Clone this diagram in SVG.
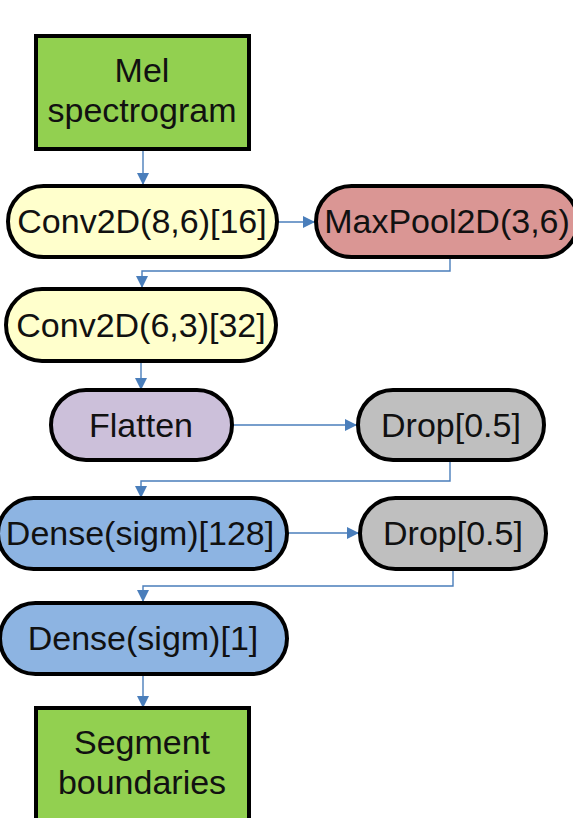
<svg xmlns="http://www.w3.org/2000/svg" width="573" height="818" viewBox="0 0 573 818">
<style>
.box{stroke:#000;stroke-width:4}
.t{font-family:"Liberation Sans",Arial,sans-serif;font-size:34px;fill:#111;text-anchor:middle}
.c{fill:none;stroke:#4a7ebb;stroke-width:1.4}
.green{fill:#92d050}.yellow{fill:#ffffcc}.red{fill:#da9694}.purple{fill:#ccc0da}.gray{fill:#bfbfbf}.blue{fill:#8db4e2}
</style>
<defs>
<marker id="ah" markerWidth="12" markerHeight="12" viewBox="0 0 12 12" refX="12" refY="6" orient="auto" markerUnits="userSpaceOnUse">
<path d="M0,0 L12,6 L0,12 Z" fill="#4a7ebb"/>
</marker>
</defs>
<rect width="573" height="818" fill="#fff"/>
<g id="connectors">
<path class="c" d="M143,150 V185" marker-end="url(#ah)"/>
<path class="c" d="M278,222 H315" marker-end="url(#ah)"/>
<path class="c" d="M450,257 V271 H142 V288" marker-end="url(#ah)"/>
<path class="c" d="M141,362 V390" marker-end="url(#ah)"/>
<path class="c" d="M232,425 H357" marker-end="url(#ah)"/>
<path class="c" d="M450,460 V481 H141 V498" marker-end="url(#ah)"/>
<path class="c" d="M287,533 H359" marker-end="url(#ah)"/>
<path class="c" d="M453,570 V586 H143 V602" marker-end="url(#ah)"/>
<path class="c" d="M143,675 V708" marker-end="url(#ah)"/>
</g>
<g id="mel">
<rect class="box green" x="36" y="36" width="213" height="113"/>
<text class="t" x="142" y="82">Mel</text>
<text class="t" x="142" y="122">spectrogram</text>
</g>
<g id="conv1">
<rect class="box yellow" x="8" y="186" width="269" height="71" rx="35.5"/>
<text class="t" x="142" y="233">Conv2D(8,6)[16]</text>
</g>
<g id="maxpool">
<rect class="box red" x="316" y="186" width="262" height="71" rx="35.5"/>
<text class="t" x="447" y="233">MaxPool2D(3,6)</text>
</g>
<g id="conv2">
<rect class="box yellow" x="6" y="289" width="270" height="72" rx="36"/>
<text class="t" x="141" y="337">Conv2D(6,3)[32]</text>
</g>
<g id="flatten">
<rect class="box purple" x="51" y="390" width="181" height="70" rx="35"/>
<text class="t" x="141" y="437">Flatten</text>
</g>
<g id="drop1">
<rect class="box gray" x="358" y="390" width="186" height="70" rx="35"/>
<text class="t" x="451" y="437">Drop[0.5]</text>
</g>
<g id="dense1">
<rect class="box blue" x="-2" y="498" width="289" height="71" rx="35.5"/>
<text class="t" x="140" y="545">Dense(sigm)[128]</text>
</g>
<g id="drop2">
<rect class="box gray" x="360" y="498" width="186" height="71" rx="35.5"/>
<text class="t" x="453" y="545">Drop[0.5]</text>
</g>
<g id="dense2">
<rect class="box blue" x="0" y="603" width="287" height="71" rx="35.5"/>
<text class="t" x="143" y="650">Dense(sigm)[1]</text>
</g>
<g id="segment">
<rect class="box green" x="36" y="708" width="213" height="120"/>
<text class="t" x="142" y="754">Segment</text>
<text class="t" x="142" y="794">boundaries</text>
</g>
</svg>
